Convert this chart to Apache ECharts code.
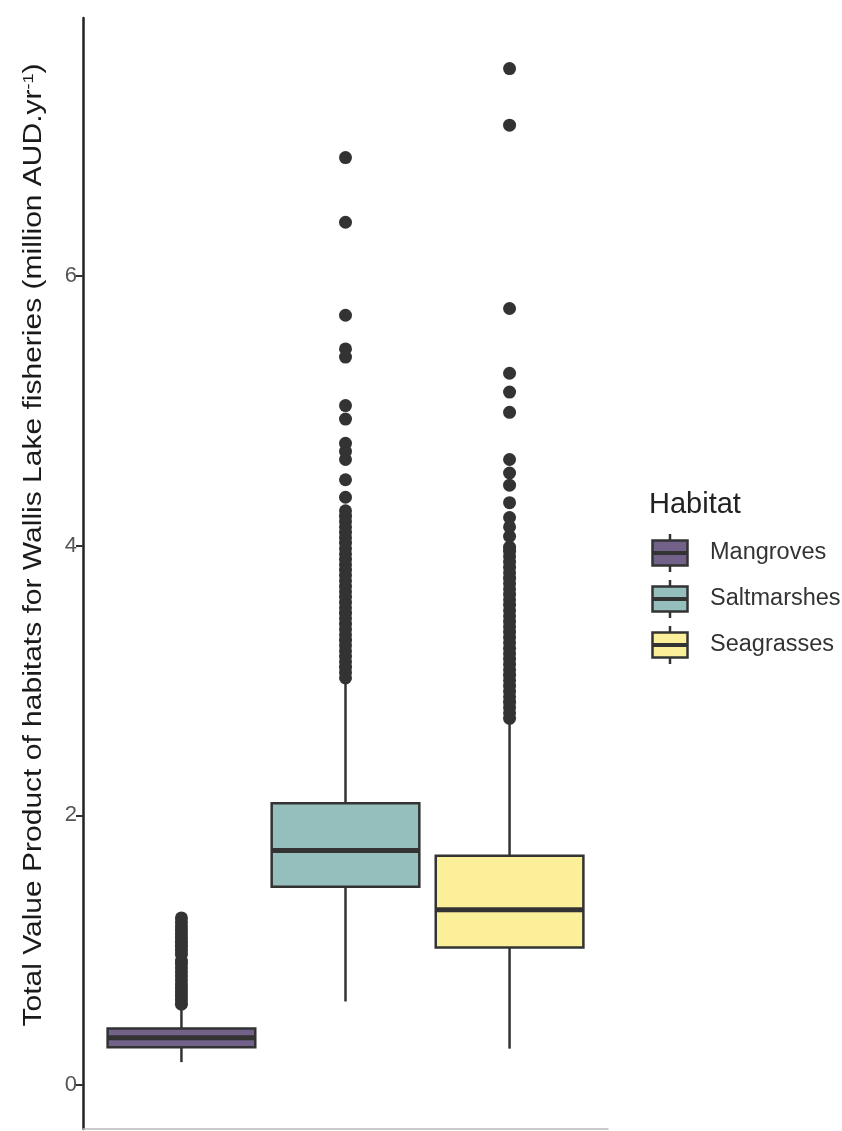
<!DOCTYPE html>
<html>
<head>
<meta charset="utf-8">
<script src="https://cdn.jsdelivr.net/npm/echarts@6/dist/echarts.min.js"></script>
<style>
  html, body { margin: 0; padding: 0; background: #fff; }
  #chart { width: 842px; height: 1131px; }
</style>
</head>
<body>
<div id="chart"></div>
<script>
const habitats = ['Mangroves', 'Saltmarshes', 'Seagrasses'];
// [lower whisker, Q1, median, Q3, upper whisker]
const mangroveBox = [0.17, 0.28, 0.35, 0.42, 0.58];
const saltmarshBox = [0.62, 1.47, 1.74, 2.09, 3.00];
const seagrassBox = [0.27, 1.02, 1.30, 1.70, 2.70];

// outliers (dense columns spelled out)
const mangroveOutliers = [0.60, 0.63, 0.66, 0.69, 0.72, 0.75, 0.78, 0.81, 0.84, 0.87, 0.90, 0.92,
  0.97, 1.00, 1.03, 1.06, 1.09, 1.12, 1.15, 1.18, 1.21, 1.24];
const saltmarshOutliers = [3.02, 3.06, 3.10, 3.14, 3.18, 3.22, 3.26, 3.30, 3.34, 3.38, 3.42, 3.46,
  3.50, 3.54, 3.58, 3.62, 3.66, 3.70, 3.74, 3.78, 3.82, 3.86, 3.90, 3.94, 3.98, 4.02, 4.06, 4.10,
  4.14, 4.18, 4.22, 4.26, 4.36, 4.49, 4.64, 4.70, 4.76, 4.94, 5.04, 5.40, 5.46, 5.71, 6.40, 6.88];
const seagrassOutliers = [2.72, 2.76, 2.80, 2.84, 2.88, 2.92, 2.96, 3.00, 3.04, 3.08, 3.12, 3.16,
  3.20, 3.24, 3.28, 3.32, 3.36, 3.40, 3.44, 3.48, 3.52, 3.56, 3.60, 3.64, 3.68, 3.72, 3.76, 3.80,
  3.84, 3.88, 3.92, 3.96, 3.99, 4.07, 4.14, 4.21, 4.32, 4.45, 4.54, 4.64, 4.99, 5.14, 5.28, 5.76,
  7.12, 7.54];

const yTicks = [0, 2, 4, 6];
const yTitle = 'Total Value Product of habitats for Wallis Lake fisheries (million AUD.yr{sup|-1})';

const boxes = [mangroveBox, saltmarshBox, seagrassBox];
const outliers = [mangroveOutliers, saltmarshOutliers, seagrassOutliers];
const fills = ['#72628a', '#94bfbc', '#fbef9a'];
const lineCol = '#333';
const font = 'Liberation Sans, Arial, sans-serif';

// ggplot style box: no whisker caps
function renderBox(params, api) {
  const x = api.value(0);
  const lo = api.coord([x, api.value(1)]);
  const q1 = api.coord([x, api.value(2)]);
  const med = api.coord([x, api.value(3)]);
  const q3 = api.coord([x, api.value(4)]);
  const hi = api.coord([x, api.value(5)]);
  const w = api.size([0.9, 0])[0];
  const ln = { stroke: lineCol, lineWidth: 2.5 };
  return {
    type: 'group',
    children: [
      { type: 'line', shape: { x1: lo[0], y1: lo[1], x2: q1[0], y2: q1[1] }, style: ln },
      { type: 'line', shape: { x1: q3[0], y1: q3[1], x2: hi[0], y2: hi[1] }, style: ln },
      { type: 'rect', shape: { x: q3[0] - w / 2, y: q3[1], width: w, height: q1[1] - q3[1] },
        style: { fill: api.visual('color'), stroke: lineCol, lineWidth: 2.5 } },
      { type: 'line', shape: { x1: med[0] - w / 2, y1: med[1], x2: med[0] + w / 2, y2: med[1] },
        style: { stroke: lineCol, lineWidth: 5 } }
    ]
  };
}

// legend key drawn like ggplot's boxplot key
function keyIcon(fill) {
  const svg = '<svg xmlns="http://www.w3.org/2000/svg" width="54" height="46" viewBox="0 0 54 46">' +
    '<line x1="19" y1="4" x2="19" y2="42" stroke="#333" stroke-width="2.5"/>' +
    '<rect x="1.5" y="10.5" width="35" height="25" fill="' + fill + '" stroke="#333" stroke-width="2.5"/>' +
    '<line x1="1.5" y1="23" x2="36.5" y2="23" stroke="#333" stroke-width="4"/></svg>';
  return 'image://data:image/svg+xml;charset=utf-8,' + encodeURIComponent(svg);
}

const series = [];
habitats.forEach(function (h, i) {
  series.push({
    name: h + ' outliers',
    type: 'scatter',
    symbol: 'circle',
    symbolSize: 13,
    itemStyle: { color: lineCol, opacity: 1 },
    z: 1,
    silent: true,
    data: outliers[i].map(function (v) { return [i + 1, v]; })
  });
  series.push({
    name: h,
    type: 'custom',
    renderItem: renderBox,
    itemStyle: { color: fills[i] },
    encode: { x: 0, y: [1, 2, 3, 4, 5] },
    z: 2,
    data: [[i + 1].concat(boxes[i])]
  });
});

const chart = echarts.init(document.getElementById('chart'));
chart.setOption({
  animation: false,
  backgroundColor: '#fff',
  title: {
    text: 'Habitat',
    left: 644,
    top: 485,
    textStyle: { fontSize: 29, fontWeight: 'normal', color: '#222', fontFamily: font }
  },
  // y axis title, stretched along its length like the source image
  graphic: [{
    type: 'text',
    x: 34,
    y: 545,
    rotation: Math.PI / 2,
    scaleX: 1.2,
    silent: true,
    style: {
      text: yTitle,
      fontSize: 25,
      fontFamily: font,
      fill: '#1a1a1a',
      align: 'center',
      verticalAlign: 'middle',
      rich: { sup: { fontSize: 15, verticalAlign: 'top', fill: '#1a1a1a', fontFamily: font } }
    }
  }],
  legend: {
    orient: 'vertical',
    left: 651,
    top: 530,
    padding: 0,
    itemGap: 0,
    itemWidth: 54,
    itemHeight: 46,
    selectedMode: false,
    textStyle: { fontSize: 23.5, color: '#333', fontFamily: font },
    data: habitats.map(function (h, i) { return { name: h, icon: keyIcon(fills[i]) }; })
  },
  grid: { left: 83, right: 234, top: 18, bottom: 2 },
  xAxis: {
    type: 'value',
    min: 0.4,
    max: 3.6,
    axisLine: { show: true, onZero: false, lineStyle: { color: '#bbb', width: 1.5 } },
    axisTick: { show: false },
    axisLabel: { show: false },
    splitLine: { show: false }
  },
  yAxis: {
    type: 'value',
    min: -0.326,
    max: 7.915,
    axisLine: { show: true, lineStyle: { color: '#222', width: 2.5 } },
    axisTick: { show: true, length: 7, customValues: yTicks, lineStyle: { color: '#333', width: 2 } },
    axisLabel: { customValues: yTicks, fontSize: 22, color: '#555', margin: 6, fontFamily: font },
    splitLine: { show: false }
  },
  series: series
});
</script>
</body>
</html>
